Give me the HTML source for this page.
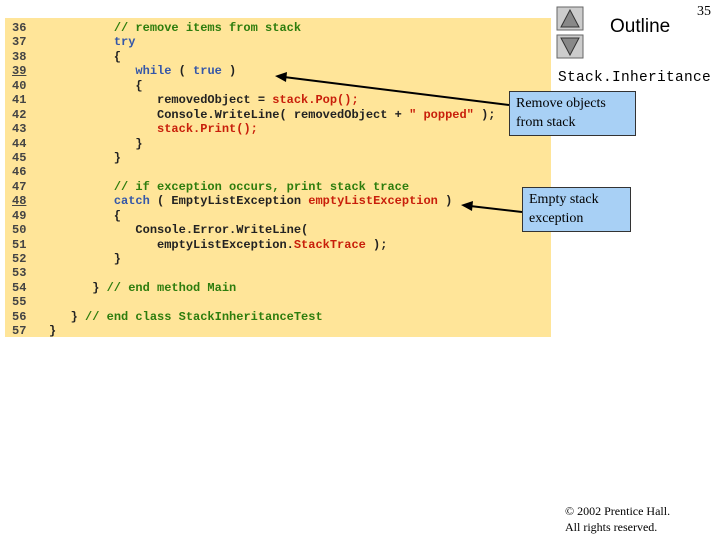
<!DOCTYPE html>
<html><head><style>
body{margin:0;width:720px;height:540px;background:#fff;position:relative;overflow:hidden;font-family:"Liberation Serif",serif}
.code{position:absolute;left:5px;top:18px;width:546px;height:319px;background:#ffe599}
pre{position:absolute;margin:0;font-family:"Liberation Mono",monospace;font-weight:bold;font-size:12px;line-height:14.43px;color:#222}
.n{left:12px;top:21px;color:#444}
.c{left:49px;top:21px}
.g{color:#2d7d0d}.b{color:#3557a8}.r{color:#c81e0a}
.box{position:absolute;background:#a8d0f5;border:1px solid #333;font-size:14px;line-height:19px;padding:2px 6px;box-sizing:border-box}
</style></head><body>
<div class="code"></div>
<pre class="n">36
37
38
<u>39</u>
40
41
42
43
44
45
46
47
<u>48</u>
49
50
51
52
53
54
55
56
57</pre>
<pre class="c">         <span class="g">// remove items from stack</span>
         <span class="b">try</span>
         {
            <span class="b">while</span> ( <span class="b">true</span> )
            {
               removedObject = <span class="r">stack.Pop();</span>
               Console.WriteLine( removedObject + <span class="r">" popped"</span> );
               <span class="r">stack.Print();</span>
            }
         }

         <span class="g">// if exception occurs, print stack trace</span>
         <span class="b">catch</span> ( EmptyListException <span class="r">emptyListException</span> )
         {
            Console.Error.WriteLine(
               emptyListException.<span class="r">StackTrace</span> );
         }

      } <span class="g">// end method Main</span>

   } <span class="g">// end class StackInheritanceTest</span>
}</pre>
<svg style="position:absolute;left:0;top:0" width="720" height="540">
<rect x="557" y="7" width="26" height="23" fill="#ccc" stroke="#666"/>
<polygon points="570,10 579,27 561,27" fill="#888" stroke="#333"/>
<rect x="557" y="35" width="26" height="23" fill="#ccc" stroke="#666"/>
<polygon points="561,38 579,38 570,55" fill="#888" stroke="#333"/>
<line x1="509" y1="105" x2="284" y2="77" stroke="#000" stroke-width="2"/>
<polygon points="275,76 287,72 286,82" fill="#000"/>
<line x1="522" y1="212" x2="470" y2="206" stroke="#000" stroke-width="2"/>
<polygon points="461,205 473,201 472,211" fill="#000"/>
</svg>
<div style="position:absolute;left:610px;top:16px;font-family:'Liberation Sans',sans-serif;font-size:19px">Outline</div>
<div style="position:absolute;left:697px;top:4px;font-size:14px">35</div>
<div style="position:absolute;left:558px;top:70px;font-family:'Liberation Mono',monospace;font-size:14.5px;letter-spacing:0.3px">Stack.Inheritance</div>
<div class="box" style="left:509px;top:91px;width:127px;height:45px">Remove objects from stack</div>
<div class="box" style="left:522px;top:187px;width:109px;height:45px">Empty stack exception</div>
<div style="position:absolute;left:565px;top:503px;font-size:12px;line-height:16px">© 2002 Prentice Hall.<br>All rights reserved.</div>
</body></html>
